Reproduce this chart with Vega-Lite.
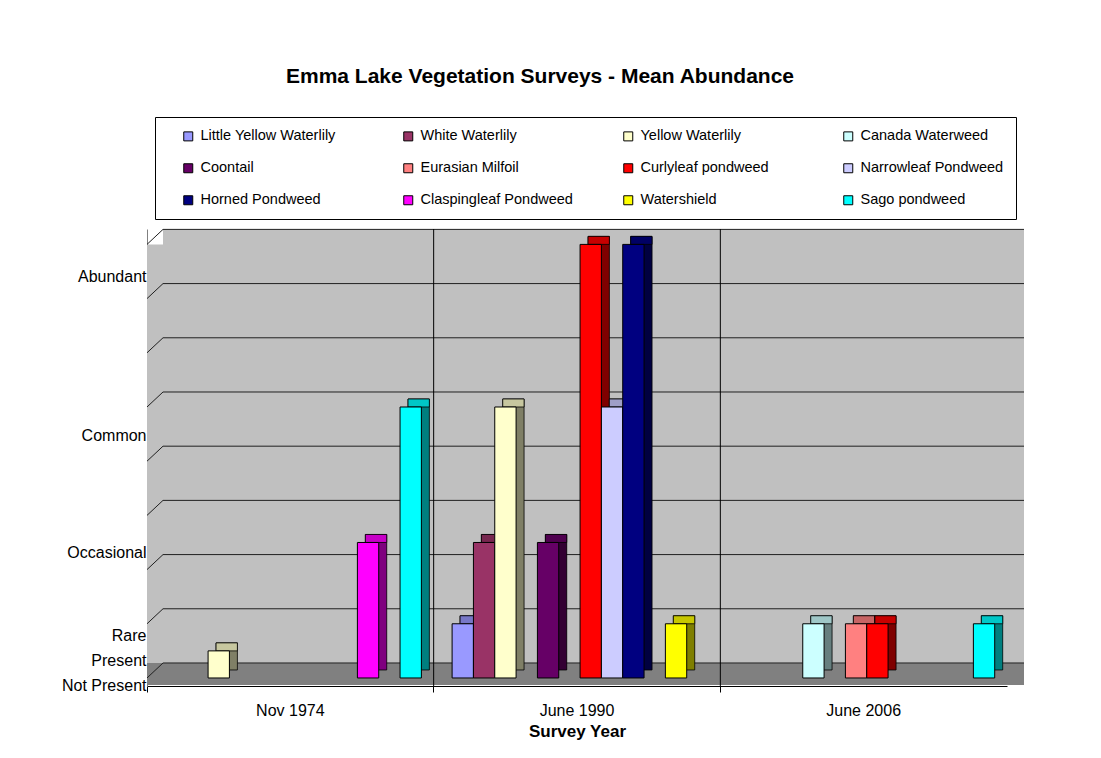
{
  "$schema": "https://vega.github.io/schema/vega-lite/v6.json",
  "autosize": {"type": "none"},
  "padding": {"left": 147, "top": 229, "right": 94, "bottom": 72},
  "width": 860,
  "height": 457,
  "background": "white",
  "title": {"text": "Emma Lake Vegetation Surveys - Mean Abundance", "fontSize": 21, "fontWeight": "bold", "font": "Liberation Sans", "color": "black", "anchor": "middle", "frame": "group", "dx": -37, "offset": 30},
  "config": {"view": {"stroke": null}, "font": "Liberation Sans"},
  "resolve": {"scale": {"xOffset": "independent"}},
  "datasets": {
    "surveys": [
      {"survey": "Nov 1974", "species": "Yellow Waterlily", "value": 0.5},
      {"survey": "Nov 1974", "species": "Claspingleaf Pondweed", "value": 2.5},
      {"survey": "Nov 1974", "species": "Sago pondweed", "value": 5},
      {"survey": "June 1990", "species": "Little Yellow Waterlily", "value": 1},
      {"survey": "June 1990", "species": "White Waterlily", "value": 2.5},
      {"survey": "June 1990", "species": "Yellow Waterlily", "value": 5},
      {"survey": "June 1990", "species": "Coontail", "value": 2.5},
      {"survey": "June 1990", "species": "Curlyleaf pondweed", "value": 8},
      {"survey": "June 1990", "species": "Narrowleaf Pondweed", "value": 5},
      {"survey": "June 1990", "species": "Horned Pondweed", "value": 8},
      {"survey": "June 1990", "species": "Watershield", "value": 1},
      {"survey": "June 2006", "species": "Canada Waterweed", "value": 1},
      {"survey": "June 2006", "species": "Eurasian Milfoil", "value": 1},
      {"survey": "June 2006", "species": "Curlyleaf pondweed", "value": 1},
      {"survey": "June 2006", "species": "Sago pondweed", "value": 1}
    ],
    "levels": [
      {"level": 0}, {"level": 1}, {"level": 2}, {"level": 3}, {"level": 4},
      {"level": 5}, {"level": 6}, {"level": 7}, {"level": 8}
    ],
    "dividers": [{"survey": "June 1990"}, {"survey": "June 2006"}],
    "one": [{"item": "wall"}]
  },
  "layer": [
    {
      "data": {"name": "one"},
      "mark": {"type": "rect", "fill": "#C0C0C0", "xOffset": 16, "x2Offset": 17, "yOffset": -15, "y2Offset": -15},
      "encoding": {"x": {"value": 0}, "x2": {"value": "width"}, "y": {"datum": 8, "type": "quantitative"}, "y2": {"datum": 0}}
    },
    {
      "data": {"name": "one"},
      "mark": {"type": "rect", "fill": "#C0C0C0", "x2Offset": 16},
      "encoding": {"x": {"value": 0}, "x2": {"value": 0}, "y": {"datum": 8, "type": "quantitative"}, "y2": {"datum": 0}}
    },
    {
      "data": {"name": "one"},
      "mark": {"type": "rect", "fill": "#808080", "x2Offset": 17, "yOffset": -15, "y2Offset": 7},
      "encoding": {"x": {"value": 0}, "x2": {"value": "width"}, "y": {"datum": 0, "type": "quantitative"}, "y2": {"datum": 0}}
    },
    {
      "data": {"name": "levels"},
      "mark": {"type": "rule", "color": "#202020", "strokeWidth": 1, "xOffset": 16, "x2Offset": 17, "yOffset": -15},
      "encoding": {"x": {"value": 0}, "x2": {"value": "width"}, "y": {"field": "level", "type": "quantitative", "title": null}}
    },
    {
      "data": {"name": "levels"},
      "mark": {"type": "rule", "color": "#202020", "strokeWidth": 1, "x2Offset": 16, "y2Offset": -15},
      "encoding": {"x": {"value": 0}, "x2": {"value": 0}, "y": {"field": "level", "type": "quantitative", "title": null}, "y2": {"field": "level"}}
    },
    {
      "data": {"name": "dividers"},
      "mark": {"type": "rule", "color": "black", "strokeWidth": 1},
      "encoding": {
        "x": {
          "field": "survey", "type": "nominal", "bandPosition": 0,
          "scale": {"domain": ["Nov 1974", "June 1990", "June 2006"], "paddingInner": 0, "paddingOuter": 0},
          "axis": {"title": "Survey Year", "titleFontSize": 17, "titleFontWeight": "bold", "titleColor": "black", "titlePadding": 5,
                   "labelFontSize": 16, "labelColor": "black", "labelAngle": 0, "labelPadding": 10,
                   "bandPosition": 0, "ticks": true, "tickSize": 6, "tickColor": "black", "domainColor": "black", "grid": false}
        }
      }
    },
    {
      "data": {"name": "surveys"},
      "mark": {"type": "bar", "yOffset": -8, "y2Offset": -8},
      "encoding": {
        "x": {"field": "survey", "type": "nominal", "title": "Survey Year"},
        "xOffset": {"field": "species", "type": "nominal", "scale": {"domain": ["Little Yellow Waterlily", "White Waterlily", "Yellow Waterlily", "Canada Waterweed", "Coontail", "Eurasian Milfoil", "Curlyleaf pondweed", "Narrowleaf Pondweed", "Horned Pondweed", "Claspingleaf Pondweed", "Watershield", "Sago pondweed"], "paddingInner": 0, "paddingOuter": 0.72, "align": 0.86}},
        "y": {"field": "value", "type": "quantitative", "title": null},
        "y2": {"datum": 0},
        "color": {"field": "species", "type": "nominal"}
      }
    },
    {
      "data": {"name": "surveys"},
      "mark": {"type": "bar", "yOffset": -8, "y2Offset": -8, "fill": "black", "fillOpacity": 0.5, "stroke": "black", "strokeWidth": 0.8},
      "encoding": {
        "x": {"field": "survey", "type": "nominal", "title": "Survey Year"},
        "xOffset": {"field": "species", "type": "nominal", "scale": {"domain": ["Little Yellow Waterlily", "White Waterlily", "Yellow Waterlily", "Canada Waterweed", "Coontail", "Eurasian Milfoil", "Curlyleaf pondweed", "Narrowleaf Pondweed", "Horned Pondweed", "Claspingleaf Pondweed", "Watershield", "Sago pondweed"], "paddingInner": 0, "paddingOuter": 0.72, "align": 0.86}},
        "y": {"field": "value", "type": "quantitative", "title": null},
        "y2": {"datum": 0}
      }
    },
    {
      "data": {"name": "surveys"},
      "mark": {"type": "bar", "yOffset": -8, "y2Offset": 0},
      "encoding": {
        "x": {"field": "survey", "type": "nominal", "title": "Survey Year"},
        "xOffset": {"field": "species", "type": "nominal", "scale": {"domain": ["Little Yellow Waterlily", "White Waterlily", "Yellow Waterlily", "Canada Waterweed", "Coontail", "Eurasian Milfoil", "Curlyleaf pondweed", "Narrowleaf Pondweed", "Horned Pondweed", "Claspingleaf Pondweed", "Watershield", "Sago pondweed"], "paddingInner": 0, "paddingOuter": 0.72, "align": 0.86}},
        "y": {"field": "value", "type": "quantitative", "title": null},
        "y2": {"field": "value"},
        "color": {"field": "species", "type": "nominal"}
      }
    },
    {
      "data": {"name": "surveys"},
      "mark": {"type": "bar", "yOffset": -8, "y2Offset": 0, "fill": "black", "fillOpacity": 0.22, "stroke": "black", "strokeWidth": 0.8},
      "encoding": {
        "x": {"field": "survey", "type": "nominal", "title": "Survey Year"},
        "xOffset": {"field": "species", "type": "nominal", "scale": {"domain": ["Little Yellow Waterlily", "White Waterlily", "Yellow Waterlily", "Canada Waterweed", "Coontail", "Eurasian Milfoil", "Curlyleaf pondweed", "Narrowleaf Pondweed", "Horned Pondweed", "Claspingleaf Pondweed", "Watershield", "Sago pondweed"], "paddingInner": 0, "paddingOuter": 0.72, "align": 0.86}},
        "y": {"field": "value", "type": "quantitative", "title": null},
        "y2": {"field": "value"}
      }
    },
    {
      "data": {"name": "surveys"},
      "mark": {"type": "bar", "stroke": "black", "strokeWidth": 1},
      "encoding": {
        "x": {"field": "survey", "type": "nominal", "title": "Survey Year"},
        "xOffset": {"field": "species", "type": "nominal", "scale": {"domain": ["Little Yellow Waterlily", "White Waterlily", "Yellow Waterlily", "Canada Waterweed", "Coontail", "Eurasian Milfoil", "Curlyleaf pondweed", "Narrowleaf Pondweed", "Horned Pondweed", "Claspingleaf Pondweed", "Watershield", "Sago pondweed"], "paddingInner": 0, "paddingOuter": 0.72, "align": 0.6}},
        "y": {
          "field": "value", "type": "quantitative", "title": null,
          "scale": {"domain": [-0.148, 8.284], "zero": false, "nice": false},
          "axis": {"title": null, "values": [-0.14, 0.33, 0.79, 2.31, 4.48, 7.4],
                   "labelExpr": "datum.value < 0 ? 'Not Present' : datum.value < 0.5 ? 'Present' : datum.value < 1 ? 'Rare' : datum.value < 3 ? 'Occasional' : datum.value < 6 ? 'Common' : 'Abundant'",
                   "ticks": false, "grid": false, "labelPadding": 1, "labelFontSize": 16, "labelColor": "black",
                   "labelFlush": false, "labelOverlap": false, "domainColor": "#808080"}
        },
        "y2": {"datum": 0},
        "color": {
          "field": "species", "type": "nominal",
          "scale": {
            "domain": ["Little Yellow Waterlily", "White Waterlily", "Yellow Waterlily", "Canada Waterweed", "Coontail", "Eurasian Milfoil", "Curlyleaf pondweed", "Narrowleaf Pondweed", "Horned Pondweed", "Claspingleaf Pondweed", "Watershield", "Sago pondweed"],
            "range": ["#9999FF", "#993366", "#FFFFCC", "#CCFFFF", "#660066", "#FF8080", "#FF0000", "#CCCCFF", "#000080", "#FF00FF", "#FFFF00", "#00FFFF"]
          },
          "legend": {
            "title": null, "orient": "none", "legendX": 8, "legendY": -112, "direction": "horizontal", "columns": 4,
            "gridAlign": "all", "columnPadding": 34, "rowPadding": 17, "padding": 12, "symbolOffset": 14,
            "fillColor": "white", "strokeColor": "black", "symbolType": "square", "symbolSize": 81,
            "symbolStrokeColor": "black", "symbolStrokeWidth": 1, "labelFontSize": 14.5, "labelColor": "black",
            "labelFont": "Liberation Sans", "labelOffset": 5, "labelLimit": 300
          }
        }
      }
    }
  ]
}
